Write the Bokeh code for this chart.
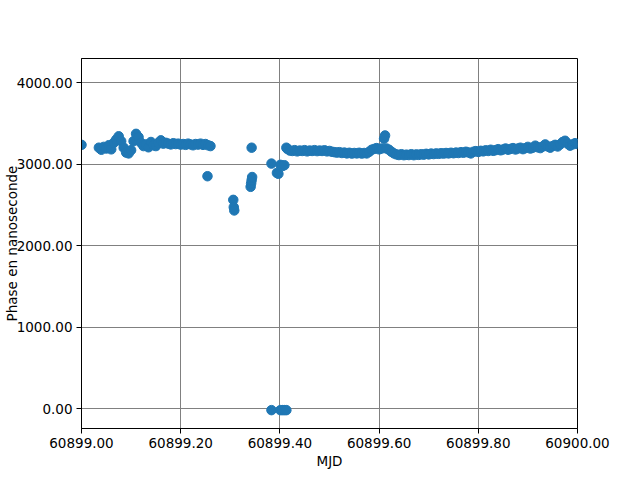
import math
from bokeh.plotting import figure
from bokeh.models import Range1d, FixedTicker, NumeralTickFormatter
from bokeh.embed import file_html
from bokeh.resources import INLINE

# ---- data (MJD, phase in ns) ----
seg_start_x = [60899.000]
seg_start_y = [3235]

seg_noisy_x = [60899.035, 60899.040, 60899.045, 60899.050, 60899.055, 60899.060, 60899.065,
               60899.070, 60899.075, 60899.080, 60899.085, 60899.090, 60899.095, 60899.100,
               60899.105, 60899.110, 60899.115, 60899.120, 60899.125, 60899.130, 60899.135,
               60899.140, 60899.145, 60899.150, 60899.155, 60899.160, 60899.165, 60899.170,
               60899.175, 60899.180, 60899.185, 60899.190, 60899.195, 60899.200, 60899.205,
               60899.210, 60899.215, 60899.220, 60899.225, 60899.230, 60899.235, 60899.240,
               60899.245, 60899.250, 60899.255, 60899.260]
seg_noisy_y = [3200, 3175, 3210, 3190, 3230, 3180, 3260,
               3300, 3340, 3280, 3200, 3140, 3130, 3170,
               3280, 3370, 3330, 3260, 3220, 3240, 3205,
               3270, 3230, 3220, 3260, 3290, 3250, 3260,
               3250, 3240, 3255, 3245, 3250, 3238, 3245,
               3235, 3250, 3240, 3230, 3245, 3238, 3250,
               3235, 3245, 3230, 3220]

seg_outlier_x = [60899.254, 60899.306, 60899.307, 60899.308, 60899.343,
                 60899.341, 60899.342, 60899.343, 60899.344,
                 60899.383, 60899.394, 60899.397, 60899.401, 60899.405, 60899.409]
seg_outlier_y = [2850, 2560, 2470, 2430, 3200,
                 2720, 2760, 2800, 2840,
                 3005, 2890, 2880, 2990, 2975, 2985]

seg_zero_x = [60899.383, 60899.401, 60899.405, 60899.409, 60899.413]
seg_zero_y = [-20, -20, -20, -20, -20]

seg_main_x = [60899.413, 60899.415, 60899.420, 60899.425, 60899.430, 60899.435, 60899.440,
              60899.445, 60899.450, 60899.455, 60899.460, 60899.465, 60899.470, 60899.475,
              60899.480, 60899.485, 60899.490, 60899.495, 60899.500, 60899.505, 60899.510,
              60899.515, 60899.520, 60899.525, 60899.530, 60899.535, 60899.540, 60899.545,
              60899.550, 60899.555, 60899.560, 60899.565, 60899.570, 60899.575, 60899.580,
              60899.585, 60899.590, 60899.595, 60899.600, 60899.605, 60899.610, 60899.612,
              60899.615, 60899.620, 60899.625, 60899.630, 60899.635, 60899.640, 60899.645,
              60899.650, 60899.655, 60899.660, 60899.665, 60899.670, 60899.675, 60899.680,
              60899.685, 60899.690, 60899.695, 60899.700, 60899.705, 60899.710, 60899.715,
              60899.720, 60899.725, 60899.730, 60899.735, 60899.740, 60899.745, 60899.750,
              60899.755, 60899.760, 60899.765, 60899.770, 60899.775, 60899.780, 60899.785,
              60899.790, 60899.795, 60899.800, 60899.805, 60899.810, 60899.815, 60899.820,
              60899.825, 60899.830, 60899.835, 60899.840, 60899.845, 60899.850, 60899.855,
              60899.860, 60899.865, 60899.870, 60899.875, 60899.880, 60899.885, 60899.890,
              60899.895, 60899.900, 60899.905, 60899.910, 60899.915, 60899.920, 60899.925,
              60899.930, 60899.935, 60899.940, 60899.945, 60899.950, 60899.955, 60899.960,
              60899.965, 60899.970, 60899.975, 60899.980, 60899.985, 60899.990, 60899.995,
              60900.000]
seg_main_y = [3200, 3185, 3165, 3160, 3170, 3155, 3165,
              3160, 3170, 3155, 3165, 3160, 3170, 3158,
              3165, 3160, 3168, 3155, 3160, 3150, 3145,
              3140, 3145, 3135, 3140, 3130, 3138, 3128,
              3135, 3130, 3138, 3128, 3135, 3130, 3150,
              3175, 3185, 3195, 3180, 3190, 3310, 3350,
              3190, 3175, 3150, 3130, 3118, 3110, 3120,
              3108, 3115, 3110, 3120, 3108, 3118, 3112,
              3120, 3115, 3125, 3118, 3128, 3122, 3130,
              3125, 3132, 3128, 3135, 3130, 3138, 3132,
              3140, 3135, 3145, 3138, 3150, 3142, 3130,
              3150, 3158, 3148, 3162, 3155, 3168, 3160,
              3175, 3162, 3170, 3182, 3168, 3178, 3190,
              3175, 3185, 3195, 3178, 3190, 3200, 3182,
              3195, 3210, 3190, 3200, 3225, 3205, 3195,
              3215, 3240, 3215, 3200, 3220, 3235, 3215,
              3240, 3270, 3285, 3250, 3225, 3240, 3255,
              3245]

x_ticks = [60899.0, 60899.2, 60899.4, 60899.6, 60899.8, 60900.0]
y_ticks = [0, 1000, 2000, 3000, 4000]

mjd = seg_start_x + seg_noisy_x + seg_outlier_x + seg_zero_x + seg_main_x
phase = seg_start_y + seg_noisy_y + seg_outlier_y + seg_zero_y + seg_main_y

FONT = "DejaVu Sans"
FS = "13.5px"

p = figure(frame_width=496, frame_height=370, output_backend="svg", toolbar_location=None,
           x_range=Range1d(60899.0, 60900.0), y_range=Range1d(-245.4, 4294.5),
           min_border_left=72, min_border_right=56, min_border_top=58, min_border_bottom=44,
           background_fill_color="white", border_fill_color="white")

p.outline_line_color = "black"
p.outline_line_width = 1

p.grid.grid_line_color = "#808080"
p.grid.grid_line_width = 1
p.xgrid.ticker = FixedTicker(ticks=x_ticks)
p.ygrid.ticker = FixedTicker(ticks=y_ticks)

p.xaxis.ticker = FixedTicker(ticks=x_ticks)
p.yaxis.ticker = FixedTicker(ticks=y_ticks)
for ax in (p.xaxis, p.yaxis):
    ax.formatter = NumeralTickFormatter(format="0.00")
    ax.major_tick_out = 5
    ax.major_tick_in = 0
    ax.minor_tick_out = 0
    ax.minor_tick_in = 0
    ax.axis_line_color = "black"
    ax.major_tick_line_color = "black"
    ax.major_label_text_font = FONT
    ax.major_label_text_font_size = FS
    ax.major_label_text_color = "black"
    ax.major_label_standoff = 4
    ax.axis_label_text_font = FONT
    ax.axis_label_text_font_size = FS
    ax.axis_label_text_font_style = "normal"
    ax.axis_label_text_color = "black"

p.xaxis.axis_label = "MJD"
p.xaxis.axis_label_standoff = 2
p.yaxis.axis_label = "Phase en nanoseconde"
p.yaxis.axis_label_standoff = -6

p.scatter(mjd, phase, size=9.5, marker="circle",
          fill_color="#1f77b4", line_color="#1f77b4")

open("out.html", "w").write(file_html(p, INLINE))
